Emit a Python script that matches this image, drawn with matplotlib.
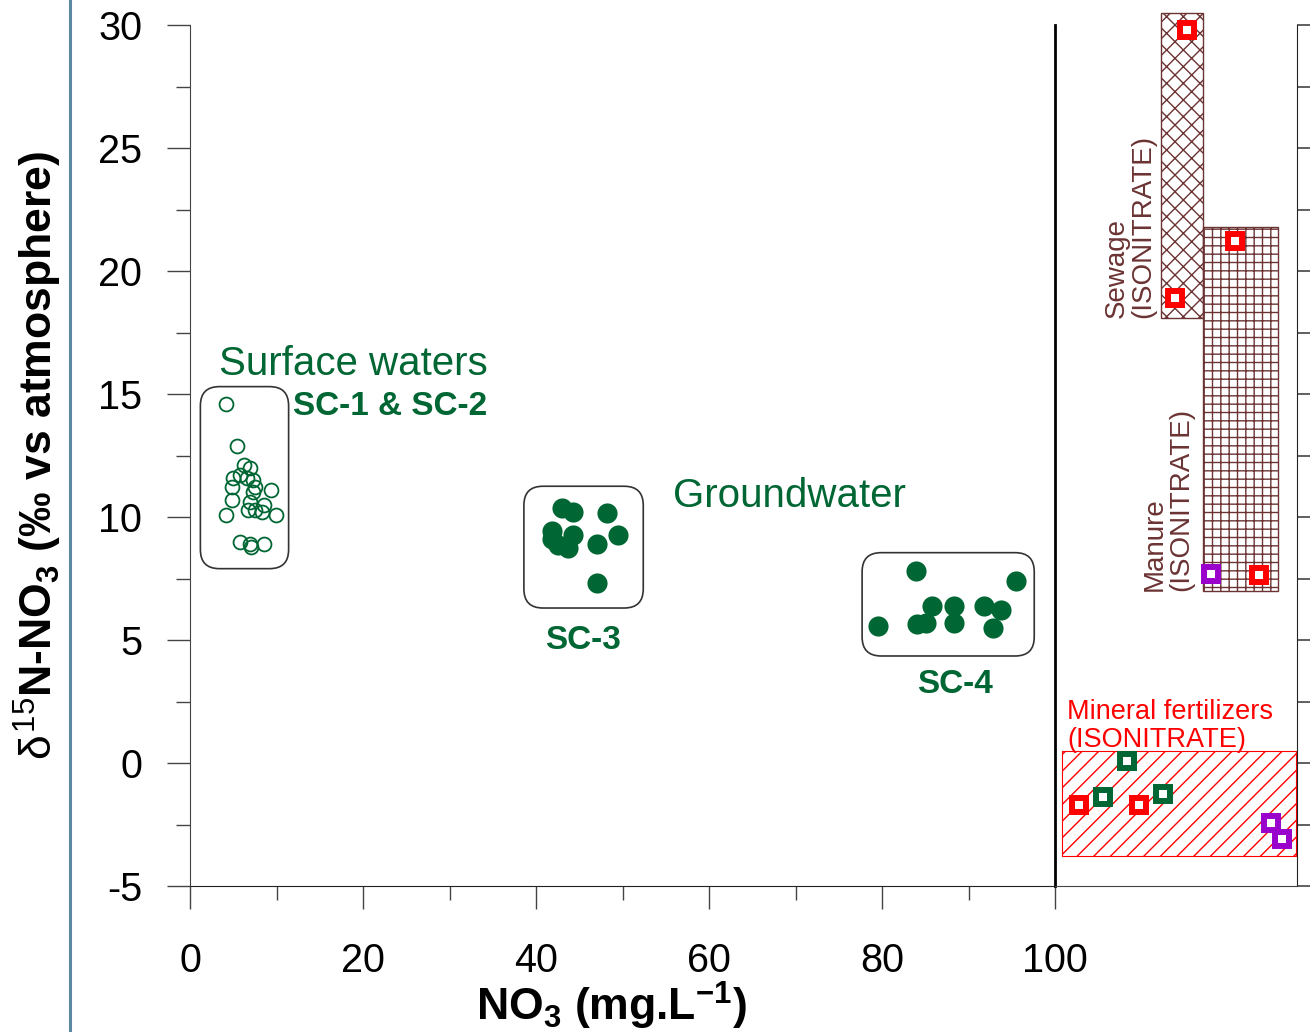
import numpy as np
import matplotlib
matplotlib.use('Agg')
import matplotlib.pyplot as plt
from matplotlib.patches import FancyBboxPatch, Rectangle
from matplotlib.lines import Line2D

plt.rcParams['font.family'] = ['Liberation Sans', 'DejaVu Sans']
plt.rcParams['mathtext.fontset'] = 'custom'
plt.rcParams['mathtext.rm'] = 'Liberation Sans'
plt.rcParams['mathtext.it'] = 'Liberation Sans'
plt.rcParams['mathtext.bf'] = 'Liberation Sans:bold'
plt.rcParams['axes.unicode_minus'] = False
plt.rcParams['hatch.linewidth'] = 1.0

# surface waters SC-1 & SC-2 (open circles)
sw_no3 = [4.2, 5.4, 6.3, 6.9, 5.0, 5.8, 6.6, 7.3, 4.9, 7.5, 9.4, 7.3,
          4.8, 6.9, 8.6, 6.7, 7.5, 8.3, 4.2, 9.9, 5.8, 6.9, 8.6, 7.1]
sw_d15n = [14.6, 12.9, 12.1, 12.0, 11.6, 11.7, 11.6, 11.5, 11.2, 11.2, 11.1, 11.0,
           10.7, 10.6, 10.5, 10.3, 10.3, 10.2, 10.1, 10.1, 9.0, 8.9, 8.9, 8.8]

# groundwater SC-3
sc3_no3 = [43.0, 44.3, 48.2, 41.9, 49.5, 44.3, 41.8, 42.6, 43.7, 47.0, 47.0]
sc3_d15n = [10.35, 10.2, 10.15, 9.45, 9.25, 9.25, 9.1, 8.85, 8.75, 8.9, 7.3]

# groundwater SC-4
sc4_no3 = [79.5, 83.9, 95.5, 85.8, 88.3, 91.8, 93.8, 84.0, 85.1, 88.3, 92.8]
sc4_d15n = [5.55, 7.8, 7.4, 6.4, 6.4, 6.4, 6.2, 5.65, 5.7, 5.7, 5.5]

# rounded group boxes: (x0, x1, y0, y1)
grp_sw = (1.2, 11.4, 7.9, 15.3)
grp_sc3 = (38.6, 52.4, 6.3, 11.25)
grp_sc4 = (77.7, 97.6, 4.35, 8.55)

# source ranges (ISONITRATE), right panel position 0..1
sew_x, sew_y = (0.438, 0.612), (18.1, 30.5)
man_x, man_y = (0.612, 0.921), (7.0, 21.8)
min_x, min_y = (0.029, 0.996), (-3.8, 0.5)

red_x = [0.545, 0.496, 0.744, 0.843, 0.099, 0.347]
red_y = [29.8, 18.9, 21.2, 7.65, -1.7, -1.7]
grn_x = [0.198, 0.298, 0.446]
grn_y = [-1.4, 0.08, -1.25]
pur_x = [0.645, 0.893, 0.938]
pur_y = [7.7, -2.45, -3.1]

green = '#006633'
brown = '#6b3333'

fig = plt.figure(figsize=(13.1, 10.32), dpi=100)
ax = fig.add_axes([190/1310, 146/1032, 865/1310, 861/1032])
ax.set_xlim(0, 100)
ax.set_ylim(-5, 30)
ax.spines['top'].set_visible(False)
ax.spines['right'].set_visible(False)
ax.spines['left'].set_color('#444444')
ax.spines['bottom'].set_color('#222222')
ax.set_xticks(np.arange(0, 101, 20))
ax.set_xticks(np.arange(10, 100, 20), minor=True)
ax.set_yticks(np.arange(-5, 31, 5))
ax.set_yticks(np.arange(-2.5, 30, 5), minor=True)
ax.tick_params(which='major', length=16.5, width=1, color='#444444', labelsize=28.5)
ax.tick_params(which='minor', length=10, width=1, color='#444444')
ax.tick_params(axis='y', pad=18)
ax.tick_params(axis='x', pad=24)

for (x0, x1, y0, y1) in [grp_sw, grp_sc3, grp_sc4]:
    ax.add_patch(FancyBboxPatch((x0, y0), x1 - x0, y1 - y0,
                                boxstyle='round,pad=0,rounding_size=2.2',
                                mutation_aspect=8.65/24.6, fc='none',
                                ec='#333333', lw=1.2))

ax.plot(sw_no3, sw_d15n, 'o', ms=10, mfc='none', mec=green, mew=1.3)
ax.plot(sc3_no3, sc3_d15n, 'o', ms=14.5, color=green, mec='none')
ax.plot(sc4_no3, sc4_d15n, 'o', ms=14.5, color=green, mec='none')

ax.text(34.4, 16.2, 'Surface waters', color=green, fontsize=29, ha='right', va='center')
ax.text(34.4, 14.48, 'SC-1 & SC-2', color=green, fontsize=24, fontweight='bold',
        ha='right', va='center')
ax.text(55.8, 10.85, 'Groundwater', color=green, fontsize=29, ha='left', va='center')
ax.text(45.4, 4.98, 'SC-3', color=green, fontsize=24, fontweight='bold', ha='center', va='center')
ax.text(88.4, 3.18, 'SC-4', color=green, fontsize=24, fontweight='bold', ha='center', va='center')

# right panel with source boxes
ax2 = fig.add_axes([1055/1310, 146/1032, 242/1310, 861/1032])
ax2.set_xlim(0, 1)
ax2.set_ylim(-5, 30)
ax2.patch.set_alpha(0)
ax2.spines['top'].set_visible(False)
ax2.spines['left'].set_linewidth(2)
ax2.spines['left'].set_color('black')
ax2.spines['bottom'].set_color('#444444')
ax2.spines['right'].set_color('#222222')
ax2.set_xticks([])
ax2.yaxis.tick_right()
ax2.set_yticks(np.arange(-5, 30.1, 2.5))
ax2.set_yticklabels([])
ax2.tick_params(axis='y', length=16, width=1.2, color='#444444', direction='out')

ax2.add_patch(Rectangle((sew_x[0], sew_y[0]), sew_x[1] - sew_x[0], sew_y[1] - sew_y[0],
                        fc='white', ec=brown, hatch='xx', lw=1, clip_on=False))
ax2.add_patch(Rectangle((man_x[0], man_y[0]), man_x[1] - man_x[0], man_y[1] - man_y[0],
                        fc='white', ec=brown, hatch='++', lw=1))
ax2.add_patch(Rectangle((min_x[0], min_y[0]), min_x[1] - min_x[0], min_y[1] - min_y[0],
                        fc='white', ec='red', hatch='//', lw=0.8))

ax2.plot(red_x, red_y, 's', ms=10, mfc='white', mec='red', mew=4.3, clip_on=False)
ax2.plot(grn_x, grn_y, 's', ms=10, mfc='white', mec=green, mew=4.3, clip_on=False)
ax2.plot(pur_x, pur_y, 's', ms=10, mfc='white', mec='#9900cc', mew=4.3, clip_on=False)

ax2.text(0.31, 18.1, 'Sewage\n(ISONITRATE)', color=brown, fontsize=20, rotation=90,
         ha='center', va='bottom', multialignment='left', linespacing=1.0)
ax2.text(0.467, 7.0, 'Manure\n(ISONITRATE)', color=brown, fontsize=20, rotation=90,
         ha='center', va='bottom', multialignment='left', linespacing=1.0)
ax2.text(0.05, 0.4, 'Mineral fertilizers\n(ISONITRATE)', color='red', fontsize=19.5,
         ha='left', va='bottom', linespacing=1.1)

fig.text(0.467, 0.0, r'NO$_\mathbf{3}$ (mg.L$^\mathbf{-1}$)', fontsize=32,
         fontweight='bold', ha='center', va='bottom')
fig.text(0.029, 0.559, r'$\delta^\mathrm{15}$N-NO$_\mathbf{3}$ (‰ vs atmosphere)',
         fontsize=32, fontweight='bold', rotation=90, ha='center', va='center')

fig.add_artist(Line2D([70/1310, 70/1310], [0, 1], color='#5b88a0', lw=2.2))

fig.savefig('out.png', dpi=100)
